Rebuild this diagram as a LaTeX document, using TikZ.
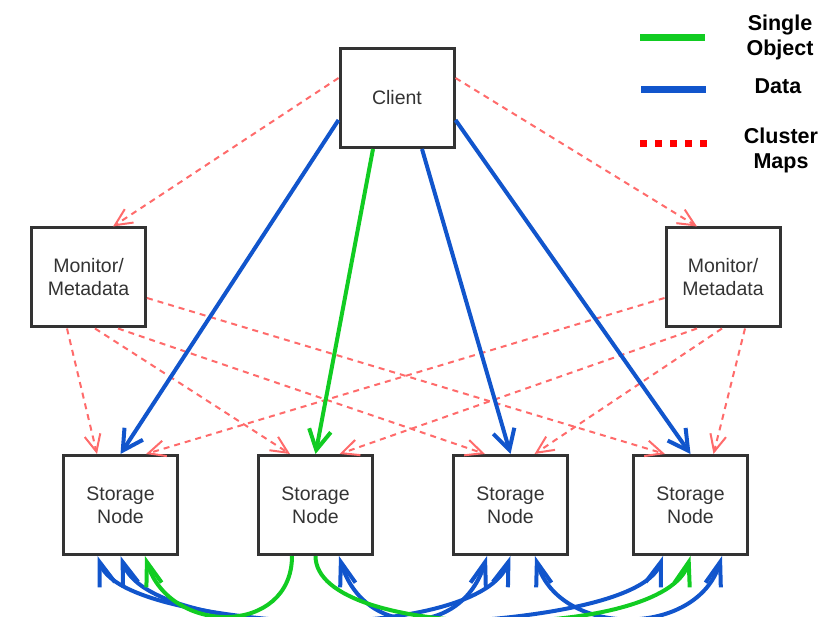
\documentclass[tikz,border=0pt]{standalone}
\usepackage{fontspec}
\setmainfont{Liberation Sans}
\usetikzlibrary{arrows.meta,calc}
\definecolor{cblue}{HTML}{1155CC}
\definecolor{cgreen}{HTML}{11CC22}
\definecolor{cred}{HTML}{FF6B6B}
\definecolor{lred}{HTML}{FF0000}
\definecolor{boxline}{HTML}{333333}
\begin{document}
\begin{tikzpicture}[x=1pt,y=-1pt,
  box/.style={draw=boxline,line width=3pt,fill=white,minimum width=114pt,minimum height=99pt,
    inner sep=0pt,align=center,font=\fontsize{19.5}{23}\selectfont,text=boxline},
  dataline/.style={draw=cblue,line width=4pt,-{Straight Barb[length=20pt,width=22pt]}},
  databoth/.style={draw=cblue,line width=4pt,{Straight Barb[length=24pt,width=16pt]}-{Straight Barb[length=24pt,width=16pt]}},
  objline/.style={draw=cgreen,line width=4pt,-{Straight Barb[length=20pt,width=22pt]}},
  objcurve/.style={draw=cgreen,line width=4pt,-{Straight Barb[length=24pt,width=16pt]}},
  mapline/.style={draw=cred,line width=2pt,dash pattern=on 6pt off 5pt,-{Straight Barb[length=17pt,width=16pt]}},
  legtext/.style={font=\bfseries\fontsize{21.5}{25}\selectfont,align=center},
]
\useasboundingbox (0,0) rectangle (833,617);
\clip (0,0) rectangle (833,617);

% nodes
\node[box] (client) at (397,98) {Client};
\node[box] (lm) at (88.5,277.5) {Monitor/\\Metadata};
\node[box] (rm) at (723,277.5) {Monitor/\\Metadata};
\node[box] (sn1) at (120.5,505) {Storage\\Node};
\node[box] (sn2) at (315.5,505) {Storage\\Node};
\node[box] (sn3) at (510.5,505) {Storage\\Node};
\node[box] (sn4) at (690.5,505) {Storage\\Node};

% cluster maps from client
\draw[mapline] ([yshift=20pt]client.west) -- ([xshift=24.5pt]lm.north);
\draw[mapline] ([yshift=20pt]client.east) -- ([xshift=-26pt]rm.north);

% cluster maps from left monitor
\draw[mapline] ([xshift=-21.5pt]lm.south) -- ([xshift=-23.5pt]sn1.north);
\draw[mapline] ([xshift=6.5pt]lm.south) -- ([xshift=-25.5pt]sn2.north);
\draw[mapline] ([xshift=29.5pt]lm.south) -- ([xshift=-25.5pt]sn3.north);
\draw[mapline] ([yshift=-20.5pt]lm.east) -- ([xshift=-25.5pt]sn4.north);

% cluster maps from right monitor
\draw[mapline] ([yshift=-20.5pt]rm.west) -- ([xshift=25.5pt]sn1.north);
\draw[mapline] ([xshift=-26pt]rm.south) -- ([xshift=24pt]sn2.north);
\draw[mapline] ([xshift=-1pt]rm.south) -- ([xshift=24pt]sn3.north);
\draw[mapline] ([xshift=22pt]rm.south) -- ([xshift=23pt]sn4.north);

% data / object from client
\draw[dataline] ([yshift=-22pt]client.west) -- (sn1.north);
\draw[objline] ([xshift=-24pt]client.south) -- (sn2.north);
\draw[dataline] ([xshift=25pt]client.south) -- (sn3.north);
\draw[dataline] ([yshift=-22pt]client.east) -- (sn4.north);

% replication curves
\draw[databoth] ([xshift=-23pt]sn1.south) .. controls +(30,88) and +(-30,88) .. ([xshift=-27.5pt]sn4.south);
\draw[databoth] (sn1.south) .. controls +(30,85) and +(-30,85) .. (sn3.south);
\draw[databoth] ([xshift=23.5pt]sn2.south) .. controls +(25,82) and +(-25,82) .. ([xshift=-23.5pt]sn3.south);
\draw[databoth] ([xshift=24.5pt]sn3.south) .. controls +(25,82) and +(-25,82) .. ([xshift=31.5pt]sn4.south);
\draw[objcurve] ([xshift=-23.5pt]sn2.south) .. controls +(0,80) and +(25,80) .. ([xshift=24.5pt]sn1.south);
\draw[objcurve] (sn2.south) .. controls +(0,86) and +(-25,86) .. (sn4.south);

% legend
\draw[cgreen,line width=7pt] (640,38) -- (705,38);
\draw[cblue,line width=7pt] (641,90) -- (706,90);
\draw[lred,line width=7pt,dash pattern=on 7pt off 8pt] (640,144) -- (707,144);
\node[legtext] (lg1) at (780,37) {Single\\Object};
\node[legtext] (lg2) at (778,86) {Data};
\node[legtext] (lg3) at (781,150) {Cluster\\Maps};
\end{tikzpicture}
\end{document}
